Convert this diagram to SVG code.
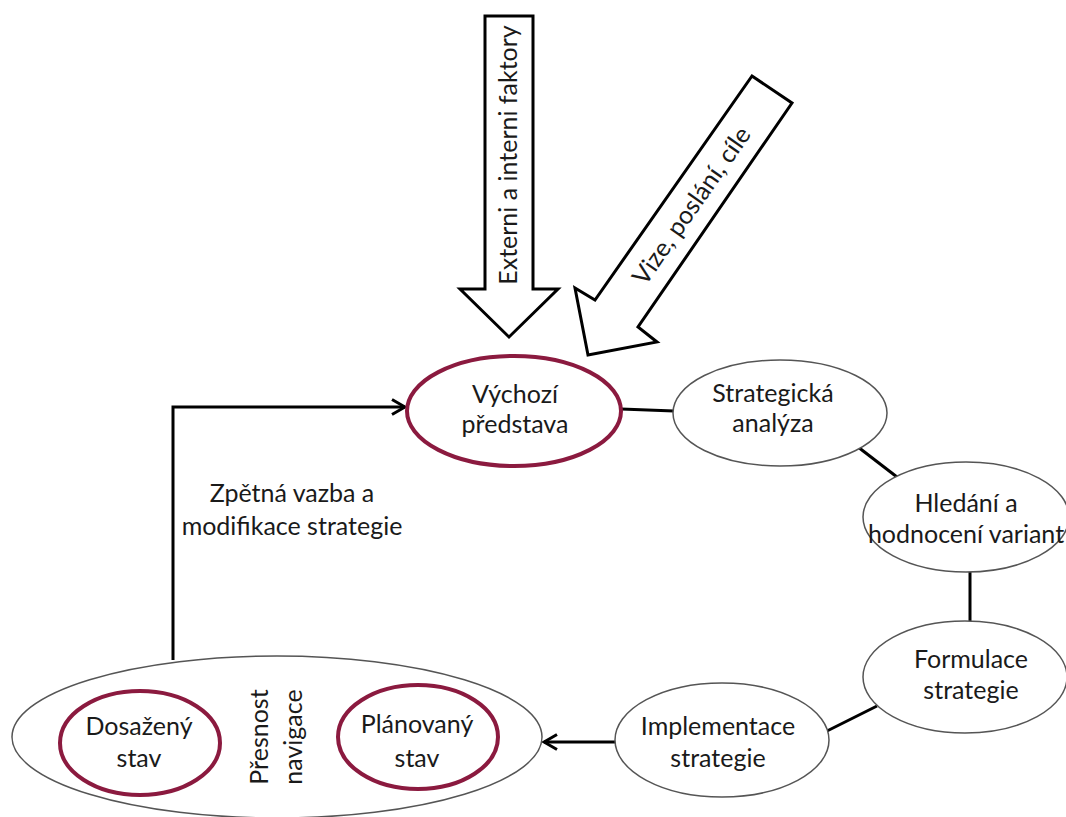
<svg xmlns="http://www.w3.org/2000/svg" width="1066" height="817" viewBox="0 0 1066 817">
  <style>
    .t { font-family: Lato, "Open Sans", "Liberation Sans", sans-serif; font-size: 25px; fill: #1a1a1a; text-anchor: middle; }
    .node { fill: #ffffff; stroke: #555555; stroke-width: 1.5; }
    .key { fill: #ffffff; stroke: #8B1A3F; stroke-width: 4; }
    .conn { fill: none; stroke: #000000; stroke-width: 3; }
    .big { fill: #ffffff; stroke: #000000; stroke-width: 3; stroke-linejoin: miter; }
  </style>
  <defs>
    <marker id="arr" viewBox="-15 -10 17 20" refX="0" refY="0" markerWidth="17" markerHeight="20" markerUnits="userSpaceOnUse" orient="auto">
      <path d="M-13,-7.5 L0,0 L-13,7.5" fill="none" stroke="#000000" stroke-width="3"/>
    </marker>
  </defs>
  <rect width="1066" height="817" fill="#ffffff"/>

  <g id="input-arrows">
    <g id="externi">
      <polygon class="big" points="485,16 533,16 533,289 558,289 509,337 460,289 485,289"/>
      <text class="t" transform="translate(509,155) rotate(-90)" x="0" y="8">Externi a interni faktory</text>
    </g>
    <g id="vize">
      <polygon class="big" points="752,76 792,103 638,327 657,342 588,355 575,288 595,300"/>
      <text class="t" transform="translate(692,206) rotate(-55)" x="0" y="8">Vize, poslání, cíle</text>
    </g>
  </g>

  <g id="connectors">
    <path class="conn" d="M173,660 V407 H405" marker-end="url(#arr)"/>
    <path class="conn" d="M621,409 L674,411"/>
    <path class="conn" d="M858,447 L897,477"/>
    <path class="conn" d="M970,572 L970,622"/>
    <path class="conn" d="M877,706 L827,731"/>
    <path class="conn" d="M616,742 L544,742" marker-end="url(#arr)"/>
  </g>

  <g id="vychozi">
    <ellipse class="key" cx="514" cy="411" rx="107" ry="55"/>
    <text class="t" x="515" y="403">Výchozí</text>
    <text class="t" x="515" y="433">představa</text>
  </g>

  <g id="strategicka">
    <ellipse class="node" cx="780" cy="413" rx="107" ry="53"/>
    <text class="t" x="773" y="402">Strategická</text>
    <text class="t" x="773" y="432">analýza</text>
  </g>

  <g id="hledani">
    <ellipse class="node" cx="966" cy="517" rx="103" ry="55"/>
    <text class="t" x="966" y="512">Hledání a</text>
    <text class="t" x="966" y="543">hodnocení variant</text>
  </g>

  <g id="formulace">
    <ellipse class="node" cx="965" cy="677" rx="102" ry="56"/>
    <text class="t" x="971" y="668">Formulace</text>
    <text class="t" x="971" y="699">strategie</text>
  </g>

  <g id="implementace">
    <ellipse class="node" cx="722" cy="740" rx="107" ry="57"/>
    <text class="t" x="718" y="735">Implementace</text>
    <text class="t" x="718" y="767">strategie</text>
  </g>

  <g id="presnost">
    <ellipse class="node" cx="277" cy="737" rx="265" ry="81"/>
    <text class="t" transform="translate(268,737) rotate(-90)" x="0" y="0">Přesnost</text>
    <text class="t" transform="translate(302,737) rotate(-90)" x="0" y="0">navigace</text>
  </g>

  <g id="dosazeny">
    <ellipse class="key" cx="140" cy="743" rx="80" ry="52"/>
    <text class="t" x="139" y="735">Dosažený</text>
    <text class="t" x="139" y="767">stav</text>
  </g>

  <g id="planovany">
    <ellipse class="key" cx="418" cy="737" rx="80" ry="52"/>
    <text class="t" x="417" y="733">Plánovaný</text>
    <text class="t" x="417" y="767">stav</text>
  </g>

  <g id="feedback-label">
    <text class="t" x="292" y="502">Zpětná vazba a</text>
    <text class="t" x="292" y="535">modifikace strategie</text>
  </g>
</svg>
